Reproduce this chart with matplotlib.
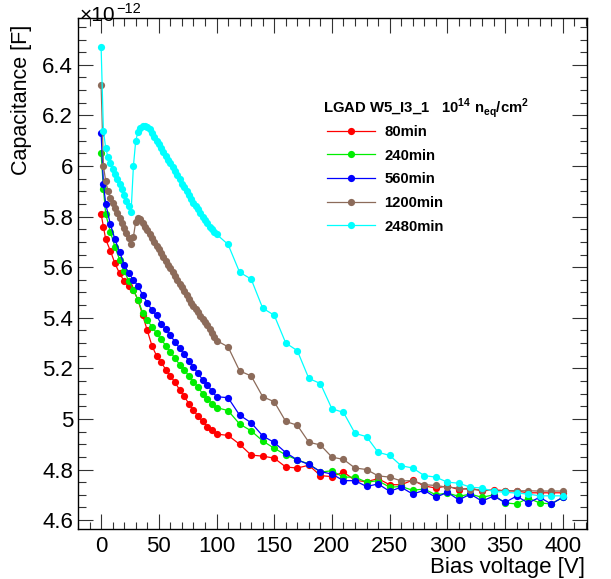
import matplotlib
matplotlib.use('Agg')
import matplotlib.pyplot as plt
from matplotlib.ticker import MultipleLocator, FuncFormatter

plt.rcParams['font.family'] = ['Liberation Sans', 'DejaVu Sans']

# Bias voltage points [V]
volt_rgb = [0, 2] + list(range(4, 100, 4)) + list(range(100, 410, 10))
volt_bc = list(range(0, 100, 2)) + list(range(100, 410, 10))

# Capacitance in units of 1e-12 F
cap_80 = [5.81, 5.76, 5.71, 5.665, 5.615, 5.575, 5.545, 5.525, 5.51, 5.47,
          5.41, 5.35, 5.29, 5.25, 5.225, 5.195, 5.17, 5.145, 5.115, 5.09,
          5.06, 5.035, 5.01, 4.99, 4.97, 4.955,
          4.94, 4.935, 4.90, 4.857, 4.853, 4.845, 4.81, 4.806, 4.817, 4.776,
          4.772, 4.79, 4.757, 4.752, 4.764, 4.74, 4.74, 4.758, 4.735, 4.727,
          4.735, 4.72, 4.727, 4.715, 4.72, 4.716, 4.715, 4.708, 4.708, 4.708,
          4.708]
cap_240 = [6.05, 5.91, 5.81, 5.74, 5.68, 5.63, 5.585, 5.545, 5.51, 5.47,
           5.42, 5.39, 5.365, 5.34, 5.315, 5.29, 5.265, 5.24, 5.215, 5.195,
           5.17, 5.147, 5.125, 5.10, 5.08, 5.06,
           5.045, 5.033, 4.98, 4.953, 4.913, 4.884, 4.858, 4.838, 4.822, 4.79,
           4.795, 4.77, 4.77, 4.75, 4.756, 4.73, 4.733, 4.718, 4.723, 4.70,
           4.707, 4.694, 4.703, 4.69, 4.70, 4.668, 4.664, 4.687, 4.668, 4.664,
           4.69]
cap_560 = [6.13, 5.93, 5.85, 5.77, 5.71, 5.66, 5.61, 5.575, 5.55, 5.525,
           5.49, 5.46, 5.43, 5.41, 5.375, 5.355, 5.33, 5.305, 5.28, 5.255,
           5.23, 5.205, 5.18, 5.155, 5.135, 5.11,
           5.088, 5.084, 5.015, 4.985, 4.933, 4.907, 4.867, 4.838, 4.82, 4.792,
           4.782, 4.756, 4.756, 4.733, 4.743, 4.714, 4.73, 4.703, 4.718, 4.69,
           4.71, 4.68, 4.703, 4.675, 4.695, 4.67, 4.695, 4.668, 4.69, 4.664,
           4.69]
cap_1200 = [6.32, 6.00, 5.94, 5.90, 5.875, 5.855, 5.835, 5.815, 5.795, 5.775,
            5.755, 5.735, 5.715, 5.69, 5.72, 5.78, 5.795, 5.79, 5.775, 5.76,
            5.745, 5.73, 5.715, 5.70, 5.685, 5.67, 5.655, 5.64, 5.625, 5.61,
            5.595, 5.58, 5.565, 5.55, 5.535, 5.52, 5.505, 5.49, 5.475, 5.46,
            5.447, 5.434, 5.421, 5.408, 5.395, 5.382, 5.37, 5.355, 5.34, 5.325,
            5.31, 5.285, 5.19, 5.17, 5.088, 5.068, 4.99, 4.975, 4.908, 4.897,
            4.849, 4.84, 4.806, 4.80, 4.775, 4.77, 4.755, 4.756, 4.74, 4.737,
            4.73, 4.727, 4.72, 4.72, 4.717, 4.717, 4.716, 4.716, 4.715, 4.715,
            4.715]
cap_2480 = [6.47, 6.14, 6.07, 6.035, 6.01, 5.99, 5.97, 5.95, 5.93, 5.91,
            5.885, 5.86, 5.84, 5.82, 6.00, 6.10, 6.135, 6.15, 6.16, 6.16,
            6.155, 6.145, 6.13, 6.115, 6.10, 6.085, 6.07, 6.055, 6.04, 6.025,
            6.01, 5.995, 5.98, 5.965, 5.95, 5.93, 5.915, 5.90, 5.885, 5.87,
            5.855, 5.84, 5.83, 5.815, 5.80, 5.785, 5.775, 5.76, 5.75, 5.74,
            5.73, 5.69, 5.58, 5.553, 5.438, 5.41, 5.30, 5.27, 5.16, 5.14,
            5.04, 5.026, 4.943, 4.93, 4.868, 4.856, 4.815, 4.806, 4.776, 4.77,
            4.75, 4.746, 4.73, 4.727, 4.714, 4.71, 4.707, 4.703, 4.696, 4.696,
            4.696]

labels = ['80min', '240min', '560min', '1200min', '2480min']
colors = ['#ff0000', '#00ee00', '#0000ff', '#8c6b5a', '#00ffff']

fig = plt.figure(figsize=(6.11, 5.79), dpi=100)
ax = fig.add_axes([0.1277, 0.0864, 0.8330, 0.8825])

series = [(volt_rgb, cap_80), (volt_rgb, cap_240), (volt_rgb, cap_560),
          (volt_bc, cap_1200), (volt_bc, cap_2480)]
for (v, c), lab, col in zip(series, labels, colors):
    ax.plot(v, c, color=col, lw=0.9, marker='o', ms=5.2, mew=0, label=lab)

ax.set_xlim(-20, 421)
ax.set_ylim(4.565, 6.585)

# ROOT-like ticks
ax.xaxis.set_major_locator(MultipleLocator(50))
ax.xaxis.set_minor_locator(MultipleLocator(10))
ax.yaxis.set_major_locator(MultipleLocator(0.2))
ax.yaxis.set_minor_locator(MultipleLocator(0.05))
ax.yaxis.set_major_formatter(FuncFormatter(lambda y, p: f'{y:g}'))
ax.tick_params(which='both', direction='in', top=True, right=True,
               width=0.8, color='#333333', labelsize=16)
ax.tick_params(which='major', length=10.8)
ax.tick_params(which='minor', length=5.4)
ax.tick_params(axis='y', pad=3.5)
ax.tick_params(axis='x', pad=5)
for s in ax.spines.values():
    s.set_linewidth(1.0)

ax.set_xlabel('Bias voltage [V]', fontsize=16, loc='right')
ax.xaxis.set_label_coords(0.997, -0.055)
ax.set_ylabel('Capacitance [F]', fontsize=15.5, loc='top')
ax.yaxis.set_label_coords(-0.090, 0.987)

# exponent of the y axis, drawn as two texts so it stays inside the figure
fig.text(80 / 611, 1 - 21 / 579, '×10', fontsize=15, ha='left', va='baseline')
fig.text(116 / 611, 1 - 13 / 579, '\u221212', fontsize=10.5, ha='left',
         va='baseline')

# legend header as its own text, entries below it
header = r'LGAD W5_I3_1   10$^{\mathregular{14}}$ n$_{\mathregular{eq}}$/cm$^{\mathregular{2}}$'
fig.text(323 / 611, 1 - 108 / 579, header, fontsize=10.7, fontweight='bold',
         ha='left', va='center')
leg = ax.legend(loc='upper left', bbox_to_anchor=(327 / 611, 1 - 125 / 579),
                bbox_transform=fig.transFigure, frameon=False, borderpad=0,
                borderaxespad=0, numpoints=1, handlelength=3.2,
                handletextpad=0.67, labelspacing=0.65,
                prop={'size': 10.7, 'weight': 'bold'})

fig.savefig('out.png', dpi=100)
